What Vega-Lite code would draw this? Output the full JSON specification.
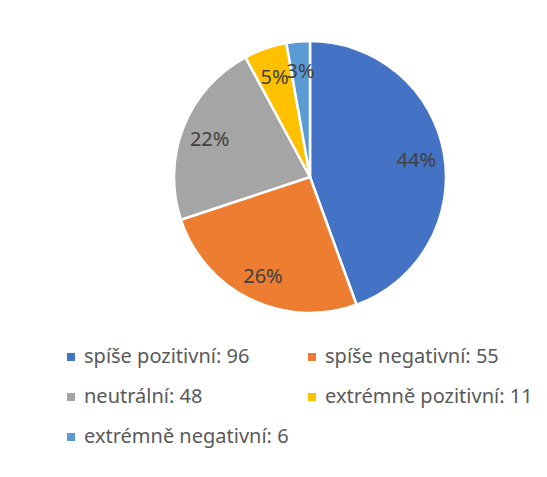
{
  "$schema": "https://vega.github.io/schema/vega-lite/v6.json",
  "width": 272,
  "height": 272,
  "autosize": {"type": "none"},
  "padding": {"left": 174, "top": 41, "right": 101, "bottom": 164},
  "background": "white",
  "data": {
    "values": [
      {"kat": "spíše pozitivní: 96", "hodnota": 96, "procento": "44%", "poradi": 1},
      {"kat": "spíše negativní: 55", "hodnota": 55, "procento": "26%", "poradi": 2},
      {"kat": "neutrální: 48", "hodnota": 48, "procento": "22%", "poradi": 3},
      {"kat": "extrémně pozitivní: 11", "hodnota": 11, "procento": "5%", "poradi": 4},
      {"kat": "extrémně negativní: 6", "hodnota": 6, "procento": "3%", "poradi": 5}
    ]
  },
  "encoding": {
    "theta": {"field": "hodnota", "type": "quantitative", "stack": true},
    "order": {"field": "poradi", "type": "quantitative"}
  },
  "layer": [
    {
      "mark": {"type": "arc", "stroke": "white", "strokeWidth": 2.5},
      "encoding": {
        "color": {
          "field": "kat",
          "type": "nominal",
          "sort": null,
          "scale": {
            "domain": ["spíše pozitivní: 96", "spíše negativní: 55", "neutrální: 48", "extrémně pozitivní: 11", "extrémně negativní: 6"],
            "range": ["#4472C4", "#ED7D31", "#A5A5A5", "#FFC000", "#5B9BD5"]
          },
          "legend": {
            "orient": "none",
            "direction": "horizontal",
            "legendX": -113,
            "legendY": 306,
            "title": null,
            "columns": 2,
            "padding": 0,
            "symbolType": "square",
            "symbolSize": 64,
            "symbolStrokeWidth": 0,
            "labelFont": "Noto Sans",
            "labelFontSize": 20,
            "labelColor": "#595959",
            "labelOffset": 3,
            "labelLimit": 300,
            "rowPadding": 20,
            "columnPadding": 13
          }
        }
      }
    },
    {
      "mark": {"type": "text", "radius": 108, "font": "Noto Sans", "fontSize": 20, "fill": "#404040", "dy": 3},
      "encoding": {
        "text": {"field": "procento", "type": "nominal"}
      }
    }
  ]
}
